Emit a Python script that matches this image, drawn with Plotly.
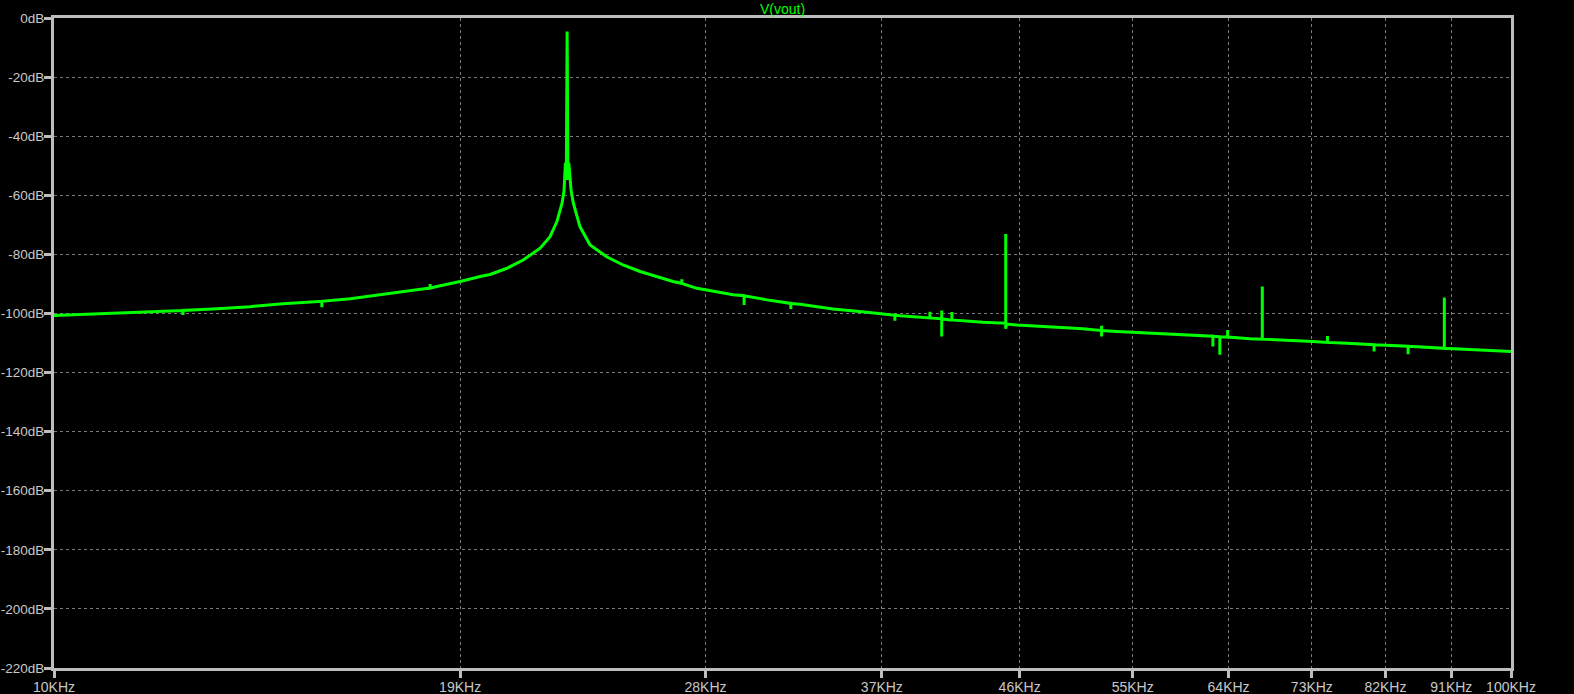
import plotly.graph_objects as go

# Spectrum of V(vout) (frequency in kHz, level in dB)
freq_khz = [
    10.00, 10.47, 11.05, 11.64, 12.26, 12.26, 12.26, 12.94, 13.63, 14.36, 15.15,
    15.27, 15.27, 15.27, 15.97, 16.82, 17.75, 18.12, 18.12, 18.12, 18.41, 19.00,
    19.61, 19.92, 20.46, 20.99, 21.56, 21.90, 22.14, 22.32, 22.39, 22.44, 22.47,
    22.50, 22.53, 22.56, 22.64, 22.72, 22.96, 23.33, 23.95, 24.58, 25.25, 25.92,
    26.60, 26.97, 26.97, 26.97, 27.62, 29.25, 29.76, 29.76, 29.76, 30.86, 32.04,
    32.04, 32.04, 32.51, 34.25, 36.14, 37.77, 37.77, 37.77, 38.07, 39.11, 39.92,
    39.92, 39.92, 40.67, 40.67, 40.67, 40.67, 41.20, 41.33, 41.33, 41.33, 43.41,
    44.94, 45.00, 45.00, 45.00, 45.05, 45.80, 48.26, 50.84, 52.36, 52.36, 52.36,
    52.36, 53.64, 56.51, 59.54, 62.43, 62.43, 62.43, 62.83, 63.12, 63.12, 63.12,
    63.90, 63.90, 63.90, 66.20, 67.50, 67.50, 67.50, 73.14, 74.82, 74.82, 74.82,
    77.18, 80.54, 80.54, 80.54, 81.31, 84.99, 84.99, 84.99, 85.66, 90.00, 90.00,
    90.00, 95.22, 100.00,
]
level_db = [
    -100.7, -100.3, -99.8, -99.5, -99.0, -100.5, -99.0, -98.4, -97.7, -96.7, -95.8,
    -95.9, -97.9, -95.9, -95.0, -93.5, -92.0, -91.4, -90.0, -91.4, -90.6, -89.2,
    -87.5, -86.8, -84.7, -81.9, -77.9, -74.0, -68.9, -62.7, -58.5, -49.0, -54.8,
    -4.6, -54.8, -49.0, -58.2, -62.6, -70.6, -76.8, -80.8, -83.6, -85.8, -87.5,
    -89.2, -89.8, -88.4, -89.8, -91.5, -93.7, -94.0, -97.1, -94.0, -95.4, -96.6,
    -98.5, -96.6, -96.9, -98.5, -99.6, -100.6, -102.5, -100.6, -100.8, -101.1, -101.5,
    -99.4, -101.5, -101.8, -107.8, -99.0, -101.8, -102.2, -102.2, -99.5, -102.2, -103.0,
    -103.3, -103.3, -73.1, -105.2, -103.6, -103.9, -104.5, -105.2, -105.8, -107.8, -104.2,
    -105.8, -106.1, -106.7, -107.3, -107.7, -111.2, -107.7, -107.8, -107.9, -114.0, -107.9,
    -108.0, -105.6, -108.0, -108.6, -108.7, -90.9, -108.7, -109.5, -109.8, -107.6, -109.8,
    -110.1, -110.6, -112.9, -110.6, -110.7, -111.1, -113.8, -111.1, -111.2, -111.8, -94.6,
    -111.8, -112.4, -112.9,
]

x_tick_khz = [10, 19, 28, 37, 46, 55, 64, 73, 82, 91, 100]
x_tick_text = ["10KHz", "19KHz", "28KHz", "37KHz", "46KHz", "55KHz",
               "64KHz", "73KHz", "82KHz", "91KHz", "100KHz"]
y_tick_vals = [0, -20, -40, -60, -80, -100, -120, -140, -160, -180, -200, -220]
y_tick_text = ["0dB", "-20dB", "-40dB", "-60dB", "-80dB", "-100dB", "-120dB",
               "-140dB", "-160dB", "-180dB", "-200dB", "-220dB"]

freq_hz = [f * 1000 for f in freq_khz]
x_tick_hz = [f * 1000 for f in x_tick_khz]

FRAME = "#bdbdbd"
TEXT = "#c8c8c8"
GRID = "#7a7a7a"
FONT = "Liberation Sans"

fig = go.Figure()
fig.add_trace(go.Scatter(
    x=freq_hz, y=level_db, mode="lines",
    line=dict(color="#00ff00", width=3),
    name="V(vout)", showlegend=False,
))

fig.update_layout(
    width=1574, height=694,
    paper_bgcolor="black", plot_bgcolor="black",
    margin=dict(l=54, r=63, t=18, b=26, autoexpand=False),
    font=dict(family=FONT, size=14, color=TEXT),
    annotations=[dict(
        text="V(vout)", x=0.5, xref="paper", y=1, yref="paper",
        xanchor="center", yanchor="bottom", yshift=-1, showarrow=False,
        font=dict(family=FONT, size=14, color="#00ff00"),
    )],
)
fig.update_xaxes(
    type="log", range=[4, 5], automargin=False,
    tickvals=x_tick_hz, ticktext=x_tick_text,
    showline=True, mirror=True, linecolor=FRAME, linewidth=3,
    ticks="outside", ticklen=7, tickwidth=3, tickcolor=FRAME,
    ticklabelstandoff=-3,
    showgrid=True, gridcolor=GRID, gridwidth=1, griddash="3px,3px",
    zeroline=False, tickfont=dict(family=FONT, size=14, color=TEXT),
)
fig.update_yaxes(
    range=[-220, 0], automargin=False,
    tickvals=y_tick_vals, ticktext=y_tick_text,
    showline=True, mirror=True, linecolor=FRAME, linewidth=3,
    ticks="outside", ticklen=7, tickwidth=3, tickcolor=FRAME,
    ticklabelstandoff=-3,
    showgrid=True, gridcolor=GRID, gridwidth=1, griddash="3px,3px",
    zeroline=False, tickfont=dict(family=FONT, size=13.5, color=TEXT),
)

fig.write_html(
    "out.html",
    config={"displayModeBar": False},
    post_script="document.body.style.margin='0';document.body.style.background='black';",
)
